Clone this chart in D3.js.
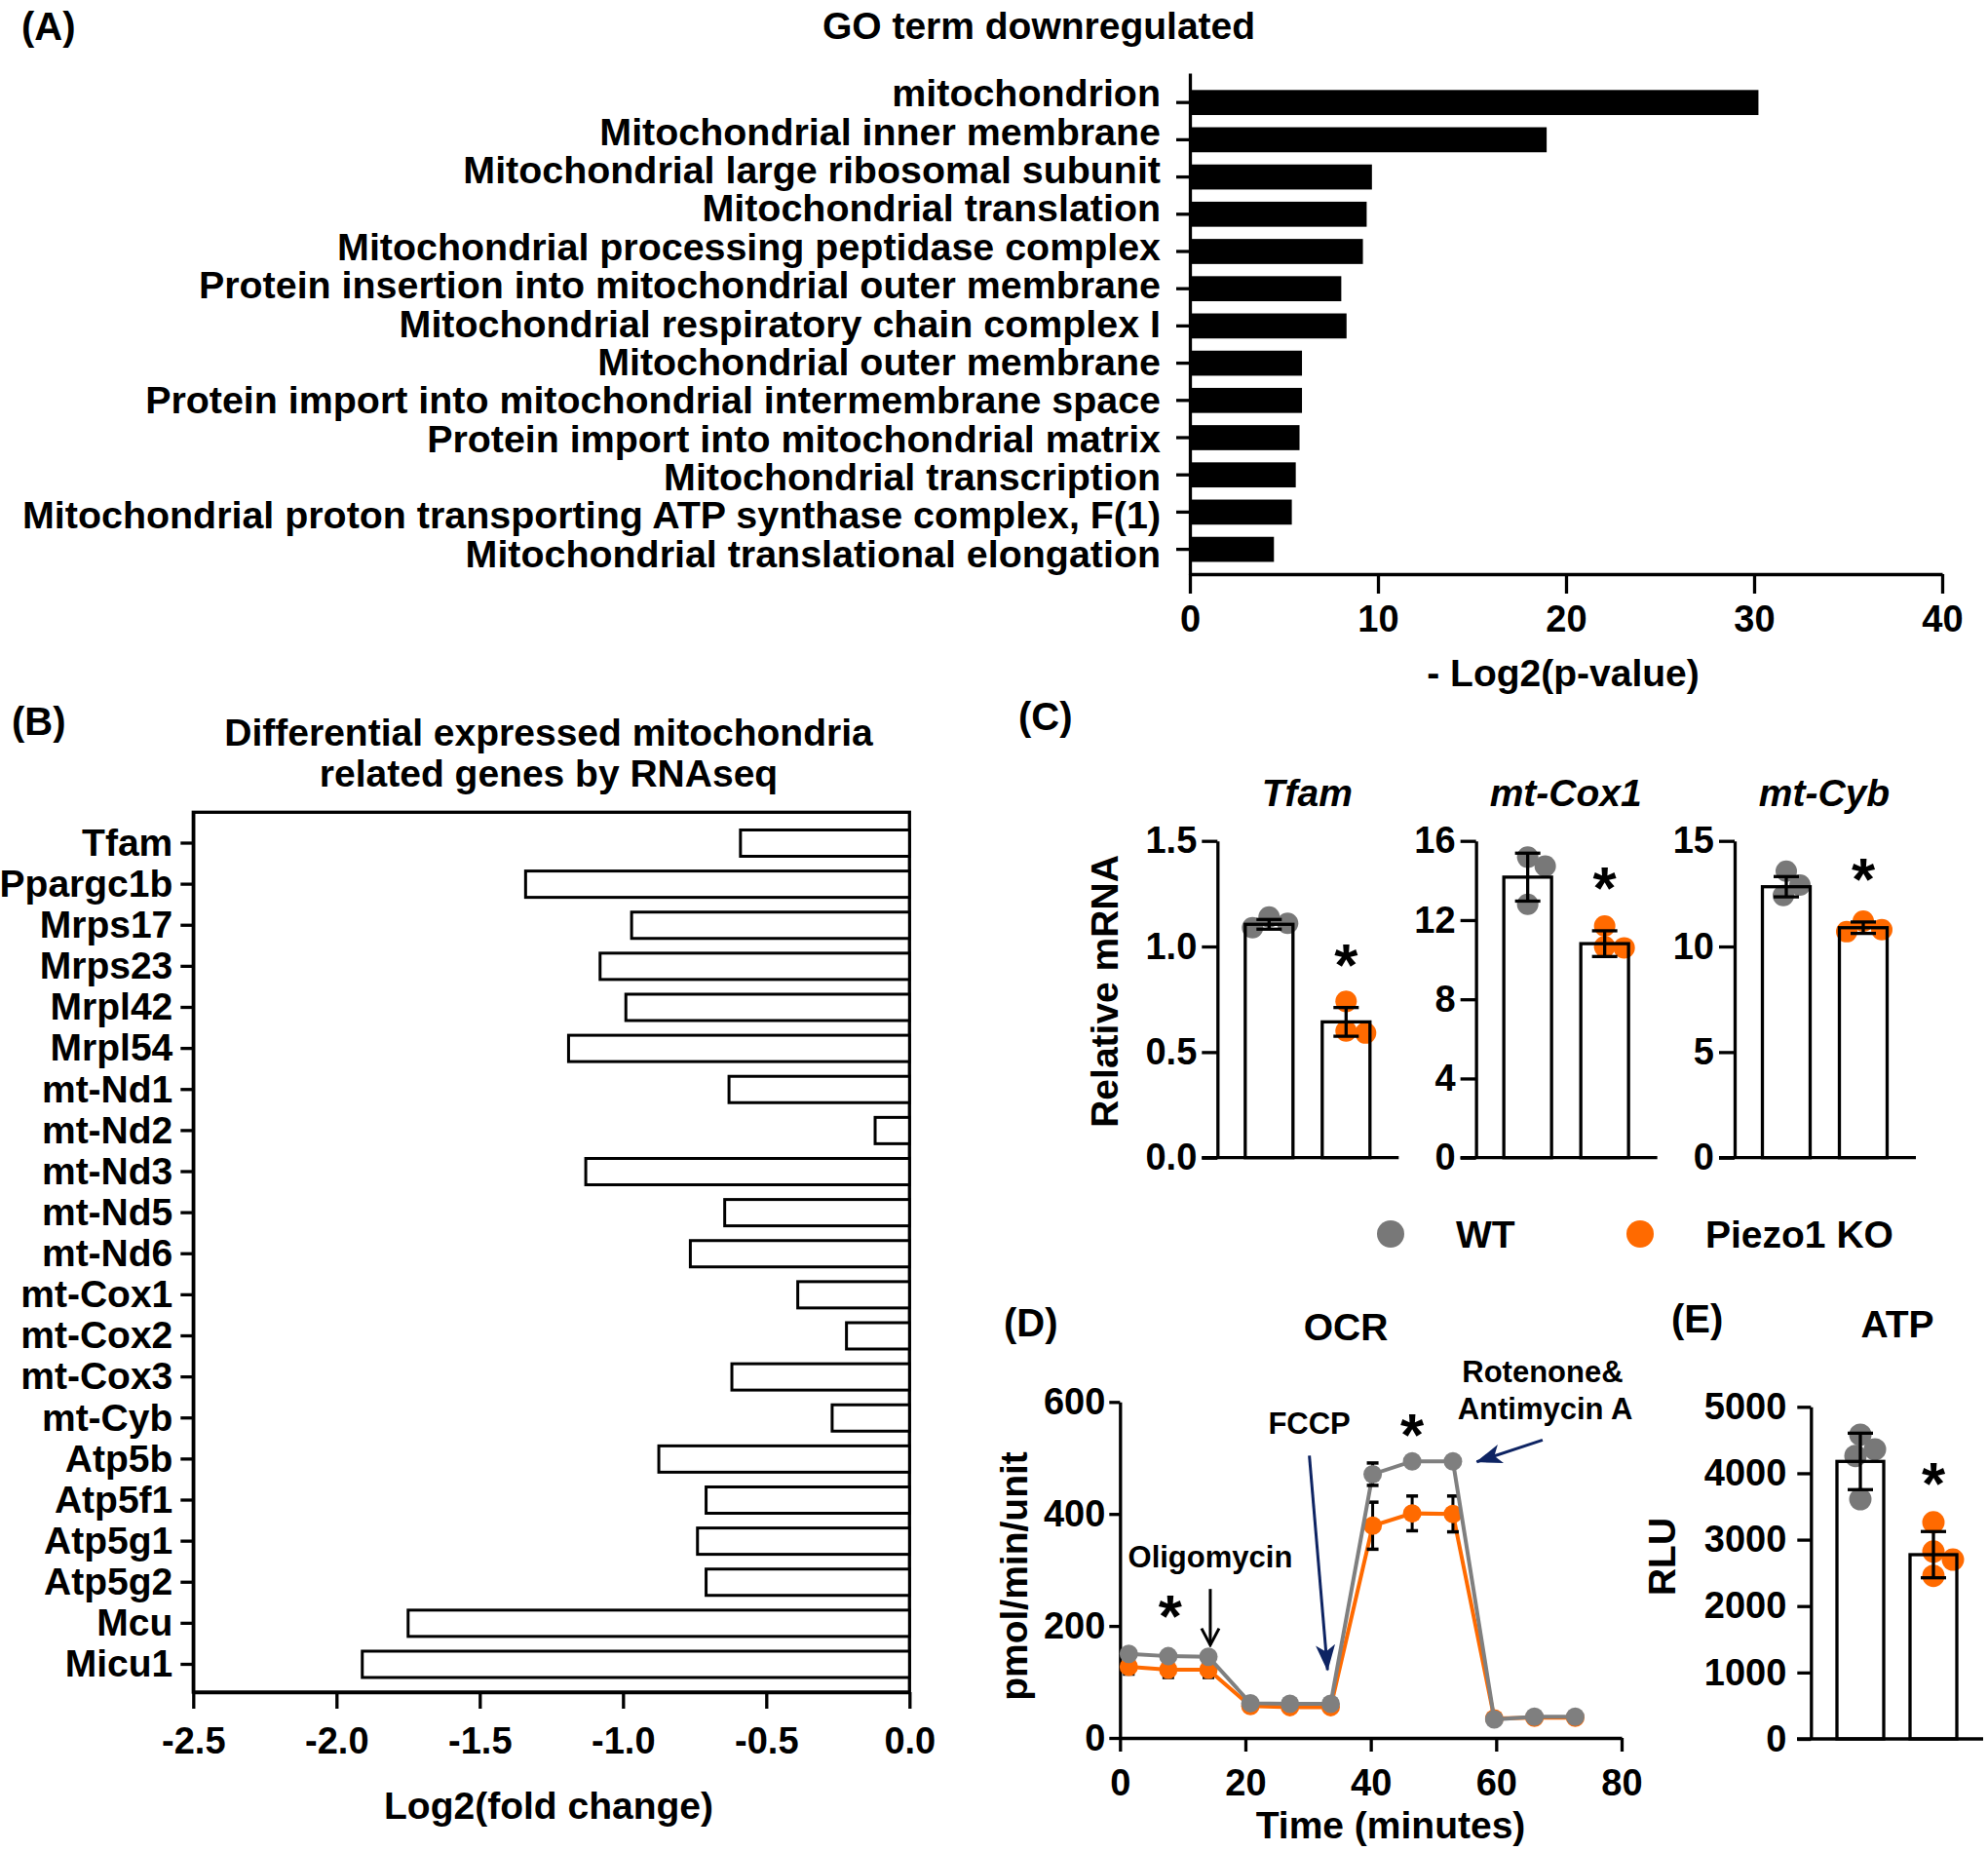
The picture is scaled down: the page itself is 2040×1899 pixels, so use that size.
<!DOCTYPE html>
<html><head><meta charset="utf-8">
<script src="https://cdn.jsdelivr.net/npm/d3@7"></script>
<style>
body{margin:0;background:#fff;}
svg text{font-family:"Liberation Sans",Arial,sans-serif;font-weight:bold;fill:#000;}
</style></head><body>
<svg id="chart" width="2040" height="1899" xmlns="http://www.w3.org/2000/svg"></svg>
<script>
// ================= DATA =================
// (A) GO terms downregulated
const goTerms = ["mitochondrion","Mitochondrial inner membrane","Mitochondrial large ribosomal subunit",
  "Mitochondrial translation","Mitochondrial processing peptidase complex",
  "Protein insertion into mitochondrial outer membrane","Mitochondrial respiratory chain complex I",
  "Mitochondrial outer membrane","Protein import into mitochondrial intermembrane space",
  "Protein import into mitochondrial matrix","Mitochondrial transcription",
  "Mitochondrial proton transporting ATP synthase complex, F(1)","Mitochondrial translational elongation"];
const goValues = [30.23, 18.97, 9.68, 9.40, 9.20, 8.05, 8.33, 5.96, 5.96, 5.83, 5.63, 5.42, 4.47];
const goTicks = [0, 10, 20, 30, 40];

// (B) differential expressed genes
const genes = ["Tfam","Ppargc1b","Mrps17","Mrps23","Mrpl42","Mrpl54","mt-Nd1","mt-Nd2","mt-Nd3","mt-Nd5",
  "mt-Nd6","mt-Cox1","mt-Cox2","mt-Cox3","mt-Cyb","Atp5b","Atp5f1","Atp5g1","Atp5g2","Mcu","Micu1"];
const geneFC = [-0.59,-1.34,-0.97,-1.08,-0.99,-1.19,-0.63,-0.12,-1.13,-0.645,-0.765,-0.39,-0.22,-0.62,
  -0.27,-0.875,-0.71,-0.74,-0.71,-1.75,-1.91];
const fcTicks = [-2.5,-2.0,-1.5,-1.0,-0.5,0.0];

// (C) qPCR
const qGenes = ["Tfam","mt-Cox1","mt-Cyb"];
const qMax = [1.5, 16, 15];
const qTicks = [[0,0.5,1.0,1.5],[0,4,8,12,16],[0,5,10,15]];
const qWTmean = [1.105, 14.17, 12.83];
const qWTsd = [0.023, 1.21, 0.48];
const qKOmean = [0.643, 10.81, 10.89];
const qKOsd = [0.068, 0.65, 0.27];
const qWTpts = [[1.089,1.14,1.11],[15.18,14.73,12.80],[13.57,12.41,12.91]];
const qKOpts = [[0.74,0.60,0.59],[11.70,10.60,10.65],[11.20,10.80,10.70]];
const groups = ["WT","Piezo1 KO"];

// (D) OCR
const ocrTime = [1.4, 7.7, 14.1, 20.8, 27.1, 33.6, 40.3, 46.6, 53.1, 59.7, 66.1, 72.6];
const ocrWT = [150, 146, 145, 62, 61, 61, 471, 494, 494, 33, 38, 38];
const ocrWTsd = [5, 5, 5, 3, 3, 3, 20, 5, 5, 2, 2, 2];
const ocrKO = [127, 122, 122, 57, 55, 55, 379, 401, 400, 35, 36, 36];
const ocrKOsd = [13, 14, 14, 3, 3, 3, 42, 31, 32, 2, 2, 2];
const ocrXTicks = [0, 20, 40, 60, 80];
const ocrYTicks = [0, 200, 400, 600];
// annotations anchored in data units (time, pmol/min/unit)
const ocrLabels = [
  {text:"Oligomycin", t:14.4, v:324},
  {text:"FCCP", t:30.2, v:562},
  {text:"Rotenone&", t:67.4, v:655},
  {text:"Antimycin A", t:67.8, v:588}];
const ocrArrows = [
  {t1:14.4, v1:266, t2:14.4, v2:166, kind:"open"},
  {t1:30.2, v1:504, t2:33.1, v2:121, kind:"navy"},
  {t1:67.4, v1:532, t2:56.9, v2:493, kind:"navy"}];
const ocrStars = [{t:8.0, v:231}, {t:46.6, v:556}];

// (E) ATP
const atpWT = [4580, 4360, 4260, 3610];
const atpKO = [3260, 2820, 2700, 2455];
const atpMean = [4178, 2774];
const atpSD = [425, 348];
const atpTicks = [0,1000,2000,3000,4000,5000];

// ================= STYLE =================
const FF = '"Liberation Sans", Arial, sans-serif';
const GREY = "#787878", ORANGE = "#ff6a00", NAVY = "#0e2463";
const LW = 3.3;

const svg = d3.select("#chart");
svg.append("rect").attr("width",2040).attr("height",1899).attr("fill","#fff");

const defs = svg.append("defs");
defs.append("marker").attr("id","mOpen").attr("markerUnits","userSpaceOnUse")
  .attr("viewBox","0 0 22 22").attr("refX",20).attr("refY",11).attr("markerWidth",22).attr("markerHeight",22)
  .attr("orient","auto").append("path").attr("d","M3,2 L20,11 L3,20").attr("fill","none")
  .attr("stroke","#000").attr("stroke-width",3);
defs.append("marker").attr("id","mNavy").attr("markerUnits","userSpaceOnUse")
  .attr("viewBox","0 0 28 22").attr("refX",26).attr("refY",11).attr("markerWidth",28).attr("markerHeight",22)
  .attr("orient","auto").append("path").attr("d","M0,1 L27,11 L0,21 L7,11 Z").attr("fill",NAVY);

function txt(x, y, s, opts={}) {
  const t = svg.append("text").attr("x",x).attr("y",y).attr("dy", opts.dy || "0.35em")
    .attr("font-size", opts.size || 39).attr("text-anchor", opts.anchor || "middle")
    .attr("font-family", FF).attr("font-weight","bold").text(s);
  if (opts.italic) t.attr("font-style","italic");
  if (opts.rotate) t.attr("transform",`rotate(-90,${x},${y})`);
  return t;
}
function styleAxis(g, size) {
  g.attr("font-size", size || 38).attr("font-family", FF);
  g.selectAll(".domain").attr("stroke","#000").attr("stroke-width",LW);
  g.selectAll(".tick line").attr("stroke","#000").attr("stroke-width",LW);
  g.selectAll(".tick text").attr("font-weight","bold").attr("fill","#000");
}
function star(x, y) {
  svg.append("text").attr("x",x).attr("y",y).attr("dy","0.47em").attr("font-size",62)
    .attr("text-anchor","middle").attr("font-family",FF).attr("font-weight","bold").text("*");
}
function swarm(values, yScale, cx, minDist) {
  const order = values.map((v,i)=>i).sort((a,b)=>values[b]-values[a]);
  const placed = [], out = new Array(values.length);
  order.forEach(i => {
    const y = yScale(values[i]);
    for (let k = 0; k < 400; k++) {
      const dx = k === 0 ? 0 : (k % 2 ? Math.ceil(k/2) : -k/2);
      if (placed.every(p => Math.hypot(p.x - dx, p.y - y) >= minDist)) {
        placed.push({x:dx, y}); out[i] = {x: cx + dx, y}; break;
      }
    }
  });
  return out;
}

// ================= PANEL A =================
const xA = d3.scaleLinear().domain([0,40]).range([1221,1993]);
const yA = d3.scaleBand().domain(goTerms).range([75,589]).paddingInner(0.327).paddingOuter(0.391).align(0.58);
const yAlab = d3.scalePoint().domain(goTerms).range([95.5,568]);
svg.append("g").selectAll("rect").data(goTerms).join("rect")
  .attr("x", xA(0)).attr("y", d => yA(d))
  .attr("width", (d,i) => xA(goValues[i]) - xA(0)).attr("height", yA.bandwidth()).attr("fill","#000");
const gAx = svg.append("g").attr("transform",`translate(0,${589})`)
  .call(d3.axisBottom(xA).tickValues(goTicks).tickFormat(d3.format("d")).tickSize(20).tickPadding(12).tickSizeOuter(0));
styleAxis(gAx);
const gAy = svg.append("g").attr("transform",`translate(${xA(0)},0)`)
  .call(d3.axisLeft(yA).tickSize(14).tickFormat("").tickSizeOuter(0));
styleAxis(gAy, 39);
svg.append("g").selectAll("text").data(goTerms).join("text")
  .attr("x", xA(0) - 30).attr("y", d => yAlab(d)).attr("dy","0.35em")
  .attr("text-anchor","end").attr("font-size",39.4).attr("font-family",FF).attr("font-weight","bold")
  .text(d => d);
txt(22, 27, "(A)", {anchor:"start", size:40});
txt(1066, 26, "GO term downregulated");
txt(1604, 690, "- Log2(p-value)");

// ================= PANEL B =================
const xB = d3.scaleLinear().domain([-2.5,0]).range([198.3,933.3]);
const yB = d3.scaleBand().domain(genes).range([833.3,1736]).paddingInner(0.359).paddingOuter(0.394).align(0.548);
svg.append("rect").attr("x",xB(-2.5)).attr("y",yB.range()[0]).attr("width",xB(0)-xB(-2.5))
  .attr("height",yB.range()[1]-yB.range()[0]).attr("fill","none").attr("stroke","#000").attr("stroke-width",LW);
svg.append("g").selectAll("rect").data(genes).join("rect")
  .attr("x",(d,i)=>xB(geneFC[i])).attr("y",d=>yB(d))
  .attr("width",(d,i)=>xB(0)-xB(geneFC[i])).attr("height",yB.bandwidth())
  .attr("fill","#fff").attr("stroke","#000").attr("stroke-width",3);
const gBx = svg.append("g").attr("transform",`translate(0,${yB.range()[1]})`)
  .call(d3.axisBottom(xB).tickValues(fcTicks).tickFormat(d=>d.toFixed(1)).tickSize(17).tickPadding(19).tickSizeOuter(0));
styleAxis(gBx);
const gBy = svg.append("g").attr("transform",`translate(${xB(-2.5)},0)`)
  .call(d3.axisLeft(yB).tickSize(13).tickPadding(8).tickSizeOuter(0));
styleAxis(gBy, 39);
gBy.selectAll(".tick text").attr("dy","0.33em");
txt(12, 740, "(B)", {anchor:"start", size:40});
txt(563, 751, "Differential expressed mitochondria");
txt(563, 793, "related genes by RNAseq");
txt(563, 1852, "Log2(fold change)");

// ================= PANEL C =================
const xC = d3.scalePoint().domain(qGenes).range([1249.3,1780]);
const yBase = 1187.7, yTop = 862.7;
qGenes.forEach((gene, i) => {
  const X0 = xC(gene);
  const y = d3.scaleLinear().domain([0,qMax[i]]).range([yBase,yTop]);
  const xg = d3.scalePoint().domain(groups).range([X0+53, X0+132]);
  const bw = 49;
  const means = [qWTmean[i], qKOmean[i]], sds = [qWTsd[i], qKOsd[i]];
  const pts = [qWTpts[i], qKOpts[i]], cols = [GREY, ORANGE];
  const g = svg.append("g");
  g.selectAll("rect.fill").data(groups).join("rect").attr("class","fill")
    .attr("x",d=>xg(d)-bw/2).attr("y",(d,j)=>y(means[j])).attr("width",bw)
    .attr("height",(d,j)=>y(0)-y(means[j])).attr("fill","#fff");
  groups.forEach((grp,j) => {
    const pos = swarm(pts[j], y, xg(grp), 20);
    g.append("g").selectAll("circle").data(pos).join("circle")
      .attr("cx",p=>p.x).attr("cy",p=>p.y).attr("r",11).attr("fill",cols[j]);
  });
  g.selectAll("rect.outl").data(groups).join("rect").attr("class","outl")
    .attr("x",d=>xg(d)-bw/2).attr("y",(d,j)=>y(means[j])).attr("width",bw)
    .attr("height",(d,j)=>y(0)-y(means[j])).attr("fill","none").attr("stroke","#000").attr("stroke-width",LW);
  groups.forEach((grp,j) => {
    const cx = xg(grp), lo = y(means[j]-sds[j]), hi = y(means[j]+sds[j]);
    g.append("line").attr("x1",cx).attr("x2",cx).attr("y1",lo).attr("y2",hi).attr("stroke","#000").attr("stroke-width",LW);
    [lo,hi].forEach(yy => g.append("line").attr("x1",cx-13).attr("x2",cx+13).attr("y1",yy).attr("y2",yy)
      .attr("stroke","#000").attr("stroke-width",LW));
  });
  const fmt = i === 0 ? d3.format(".1f") : d3.format("d");
  const gy = svg.append("g").attr("transform",`translate(${X0},0)`)
    .call(d3.axisLeft(y).tickValues(qTicks[i]).tickFormat(fmt).tickSize(16).tickPadding(5).tickSizeOuter(0));
  styleAxis(gy);
  svg.append("line").attr("x1",X0-16).attr("x2",xg.range()[1]+54).attr("y1",y(0)).attr("y2",y(0))
    .attr("stroke","#000").attr("stroke-width",LW);
  star(xg(groups[1]), y(qKOmean[i]+qKOsd[i]) - 52);
  txt(X0+92, 813, gene, {italic:true});
});
txt(1133, 1017, "Relative mRNA", {rotate:true});
txt(1045, 735, "(C)", {anchor:"start", size:40});
const legX = d3.scalePoint().domain(groups).range([1427,1683]);
groups.forEach((grp,j) => {
  svg.append("circle").attr("cx",legX(grp)).attr("cy",1266).attr("r",14).attr("fill",[GREY,ORANGE][j]);
  txt(legX(grp)+67, 1266, grp, {anchor:"start"});
});

// ================= PANEL D =================
const xD = d3.scaleLinear().domain([0,80]).range([1149.3,1664]);
const yD = d3.scaleLinear().domain([0,600]).range([1783,1438.3]);
const gDx = svg.append("g").attr("transform",`translate(0,${yD(0)})`)
  .call(d3.axisBottom(xD).tickValues(ocrXTicks).tickFormat(d3.format("d")).tickSize(14).tickPadding(18).tickSizeOuter(0));
styleAxis(gDx);
const gDy = svg.append("g").attr("transform",`translate(${xD(0)},0)`)
  .call(d3.axisLeft(yD).tickValues(ocrYTicks).tickFormat(d3.format("d")).tickSize(11).tickPadding(4).tickSizeOuter(0));
styleAxis(gDy);
const lineD = d3.line().x(d=>xD(d.t)).y(d=>yD(d.v));
[[ocrKO, ocrKOsd, ORANGE], [ocrWT, ocrWTsd, "#7f7f7f"]].forEach(([vals, sds, col]) => {
  const data = ocrTime.map((t,k)=>({t, v:vals[k], s:sds[k]}));
  const g = svg.append("g");
  g.append("path").datum(data).attr("d",lineD).attr("fill","none").attr("stroke",col).attr("stroke-width",4);
  data.forEach(d => {
    const cx = xD(d.t), lo = yD(d.v-d.s), hi = yD(d.v+d.s);
    g.append("line").attr("x1",cx).attr("x2",cx).attr("y1",lo).attr("y2",hi).attr("stroke","#000").attr("stroke-width",3);
    [lo,hi].forEach(yy => g.append("line").attr("x1",cx-6).attr("x2",cx+6).attr("y1",yy).attr("y2",yy)
      .attr("stroke","#000").attr("stroke-width",3.5));
  });
  g.selectAll("circle").data(data).join("circle").attr("cx",d=>xD(d.t)).attr("cy",d=>yD(d.v)).attr("r",9.5).attr("fill",col);
});
ocrLabels.forEach(l => txt(xD(l.t), yD(l.v), l.text, {size:31}));
ocrArrows.forEach(a => {
  svg.append("line").attr("x1",xD(a.t1)).attr("y1",yD(a.v1)).attr("x2",xD(a.t2)).attr("y2",yD(a.v2))
    .attr("stroke", a.kind === "navy" ? NAVY : "#000").attr("stroke-width", 3)
    .attr("marker-end", a.kind === "navy" ? "url(#mNavy)" : "url(#mOpen)");
});
ocrStars.forEach(s => star(xD(s.t), yD(s.v)));
txt(1030, 1357, "(D)", {anchor:"start", size:40});
txt(1381, 1361, "OCR");
txt(1040, 1617, "pmol/min/unit", {rotate:true});
txt(1427, 1872, "Time (minutes)");

// ================= PANEL E =================
const yE = d3.scaleLinear().domain([0,5000]).range([1784,1443.3]);
const xE = d3.scalePoint().domain(groups).range([1909,1984]);
const bwE = 48;
const gE = svg.append("g");
gE.selectAll("rect.fill").data(groups).join("rect").attr("class","fill")
  .attr("x",d=>xE(d)-bwE/2).attr("y",(d,j)=>yE(atpMean[j])).attr("width",bwE)
  .attr("height",(d,j)=>yE(0)-yE(atpMean[j])).attr("fill","#fff");
[atpWT, atpKO].forEach((vals,j) => {
  const pos = swarm(vals, yE, xE(groups[j]), 21);
  gE.append("g").selectAll("circle").data(pos).join("circle")
    .attr("cx",p=>p.x).attr("cy",p=>p.y).attr("r",11.5).attr("fill",[GREY,ORANGE][j]);
});
gE.selectAll("rect.outl").data(groups).join("rect").attr("class","outl")
  .attr("x",d=>xE(d)-bwE/2).attr("y",(d,j)=>yE(atpMean[j])).attr("width",bwE)
  .attr("height",(d,j)=>yE(0)-yE(atpMean[j])).attr("fill","none").attr("stroke","#000").attr("stroke-width",LW);
groups.forEach((grp,j) => {
  const cx = xE(grp), lo = yE(atpMean[j]-atpSD[j]), hi = yE(atpMean[j]+atpSD[j]);
  gE.append("line").attr("x1",cx).attr("x2",cx).attr("y1",lo).attr("y2",hi).attr("stroke","#000").attr("stroke-width",LW);
  [lo,hi].forEach(yy => gE.append("line").attr("x1",cx-13).attr("x2",cx+13).attr("y1",yy).attr("y2",yy)
    .attr("stroke","#000").attr("stroke-width",LW));
});
const gEy = svg.append("g").attr("transform",`translate(1858.3,0)`)
  .call(d3.axisLeft(yE).tickValues(atpTicks).tickFormat(d3.format("d")).tickSize(14).tickPadding(11).tickSizeOuter(0));
styleAxis(gEy);
svg.append("line").attr("x1",1844).attr("x2",xE.range()[1]+51).attr("y1",yE(0)).attr("y2",yE(0))
  .attr("stroke","#000").attr("stroke-width",LW);
star(xE(groups[1]), yE(atpMean[1]+atpSD[1]) - 57);
txt(1715, 1353, "(E)", {anchor:"start", size:40});
txt(1947, 1358, "ATP");
txt(1705, 1597, "RLU", {rotate:true});
</script>
</body></html>
